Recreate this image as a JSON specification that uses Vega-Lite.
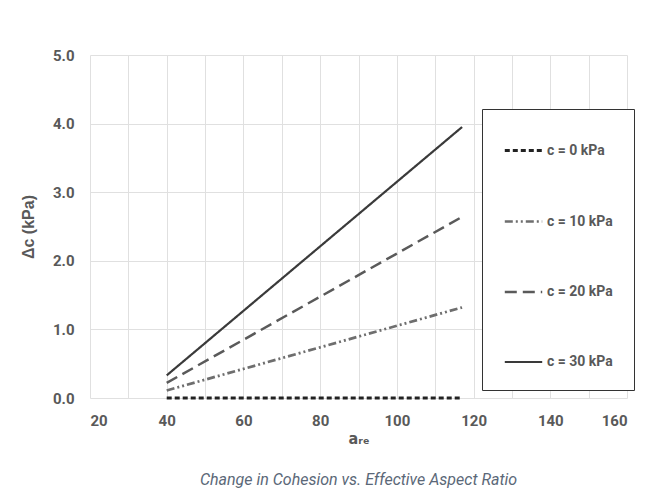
{
  "$schema": "https://vega.github.io/schema/vega-lite/v6.json",
  "width": 537,
  "height": 343,
  "autosize": {"type": "none"},
  "padding": {"left": 90, "top": 55, "right": 20, "bottom": 99},
  "background": "white",
  "title": {
    "text": "Change in Cohesion vs. Effective Aspect Ratio",
    "orient": "bottom",
    "anchor": "middle",
    "fontSize": 16,
    "fontStyle": "italic",
    "fontWeight": "normal",
    "font": "Roboto, sans-serif",
    "color": "#5b6878",
    "offset": 26
  },
  "data": {
    "values": [
      {"a": 40, "dc": 0.0, "c": "c = 0 kPa"},
      {"a": 117, "dc": 0.0, "c": "c = 0 kPa"},
      {"a": 40, "dc": 0.11, "c": "c = 10 kPa"},
      {"a": 117, "dc": 1.32, "c": "c = 10 kPa"},
      {"a": 40, "dc": 0.22, "c": "c = 20 kPa"},
      {"a": 117, "dc": 2.64, "c": "c = 20 kPa"},
      {"a": 40, "dc": 0.33, "c": "c = 30 kPa"},
      {"a": 117, "dc": 3.95, "c": "c = 30 kPa"}
    ]
  },
  "mark": {"type": "line"},
  "encoding": {
    "x": {
      "field": "a",
      "type": "quantitative",
      "scale": {"domain": [20, 160], "nice": false, "zero": false},
      "axis": {
        "title": "aᵣₑ",
        "values": [20, 30, 40, 50, 60, 70, 80, 90, 100, 110, 120, 130, 140, 150, 160],
        "labelExpr": "datum.value % 20 == 0 ? datum.label : ''",
        "grid": true,
        "gridColor": "#e0e0e0",
        "domain": false,
        "ticks": false,
        "labelPadding": 15,
        "labelFontSize": 15,
        "labelFontWeight": "bold",
        "labelColor": "#595959",
        "labelFont": "Roboto, sans-serif",
        "titleFontSize": 16,
        "titleFontWeight": "bold",
        "titleColor": "#595959",
        "titleFont": "DejaVu Sans Condensed, DejaVu Sans, sans-serif",
        "titlePadding": 2
      }
    },
    "y": {
      "field": "dc",
      "type": "quantitative",
      "scale": {"domain": [0, 5], "nice": false},
      "axis": {
        "title": "Δc (kPa)",
        "values": [0, 1, 2, 3, 4, 5],
        "format": ".1f",
        "grid": true,
        "gridColor": "#e0e0e0",
        "domain": false,
        "ticks": false,
        "labelPadding": 16,
        "labelFontSize": 15,
        "labelFontWeight": "bold",
        "labelColor": "#595959",
        "labelFont": "Roboto, sans-serif",
        "titleFontSize": 16,
        "titleFontWeight": "bold",
        "titleColor": "#595959",
        "titleFont": "Liberation Sans, Arial, sans-serif",
        "titlePadding": 16
      }
    },
    "strokeWidth": {
      "field": "c",
      "type": "nominal",
      "scale": {
        "domain": ["c = 0 kPa", "c = 10 kPa", "c = 20 kPa", "c = 30 kPa"],
        "range": [3, 2.2, 2.2, 2.2]
      },
      "legend": null
    },
    "color": {
      "field": "c",
      "type": "nominal",
      "scale": {
        "domain": ["c = 0 kPa", "c = 10 kPa", "c = 20 kPa", "c = 30 kPa"],
        "range": ["#222222", "#6e6e6e", "#5a5a5a", "#3a3a3a"]
      },
      "legend": {
        "title": null,
        "orient": "none",
        "legendX": 392,
        "legendY": 54,
        "strokeColor": "#333333",
        "fillColor": "white",
        "padding": 21,
        "symbolType": "stroke",
        "symbolSize": 1400,
        "symbolStrokeWidth": 2.4,
        "rowPadding": 43,
        "labelOffset": 3,
        "labelFontSize": 14,
        "labelFontWeight": "bold",
        "labelColor": "#595959",
        "labelFont": "Roboto, sans-serif"
      }
    },
    "strokeDash": {
      "field": "c",
      "type": "nominal",
      "scale": {
        "domain": ["c = 0 kPa", "c = 10 kPa", "c = 20 kPa", "c = 30 kPa"],
        "range": [[5, 3], [8, 3, 2, 3, 2, 3], [12, 6], [1, 0]]
      },
      "legend": {
        "title": null,
        "orient": "none",
        "legendX": 392,
        "legendY": 54,
        "strokeColor": "#333333",
        "fillColor": "white",
        "padding": 21,
        "symbolType": "stroke",
        "symbolSize": 1400,
        "symbolStrokeWidth": 2.4,
        "rowPadding": 43,
        "labelOffset": 3,
        "labelFontSize": 14,
        "labelFontWeight": "bold",
        "labelColor": "#595959",
        "labelFont": "Roboto, sans-serif"
      }
    }
  },
  "config": {
    "view": {"stroke": null}
  }
}
